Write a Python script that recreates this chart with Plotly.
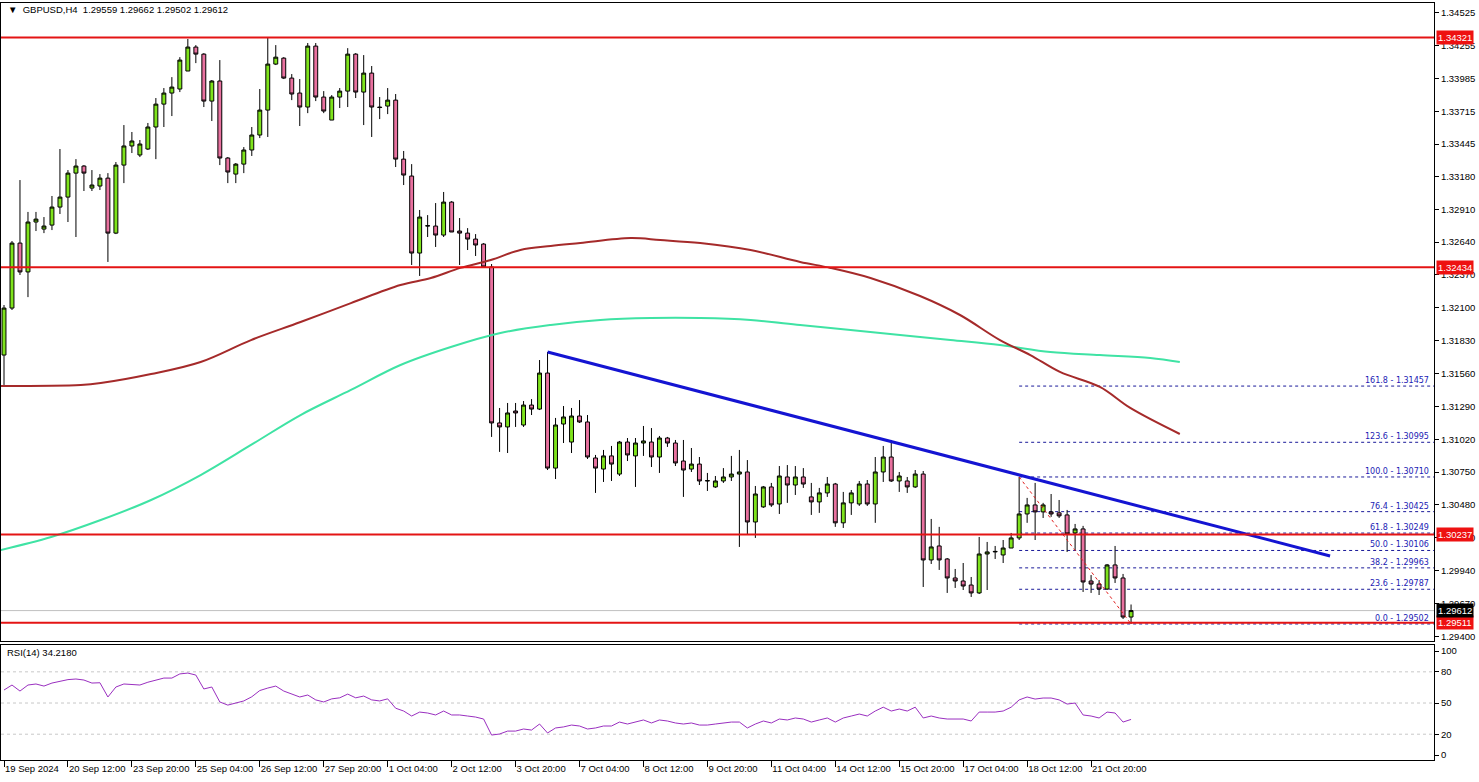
import plotly.graph_objects as go

# ---------------- data ----------------
bars = list(range(142))
opens = [1.31712,1.32098,1.32632,1.32395,1.32805,1.32747,1.32780,1.32928,1.33010,1.33207,
         1.33265,1.33084,1.33101,1.33166,1.32714,1.33273,1.33430,1.33356,1.33405,1.33586,
         1.33774,1.33865,1.33898,1.34046,1.34243,1.34185,1.33799,1.33964,1.33331,1.33199,
         1.33281,1.33397,1.33520,1.33725,1.34103,1.34152,1.33988,1.33865,1.33750,1.34251,
         1.33832,1.33643,1.33832,1.33881,1.34185,1.33873,1.34029,1.33750,1.33758,1.33807,
         1.33322,1.33183,1.32550,1.32772,1.32772,1.32698,1.32969,1.32731,1.32714,1.32665,
         1.32624,1.32436,1.31154,1.31121,1.31252,1.31137,1.31301,1.31268,1.31564,1.30783,
         1.31145,1.30997,1.31211,1.31162,1.30866,1.30775,1.30883,1.30734,1.30997,1.30883,
         1.30989,1.30997,1.30874,1.31030,1.30989,1.30841,1.30775,1.30816,1.30677,1.30628,
         1.30677,1.30710,1.30734,1.30751,1.30340,1.30464,1.30628,1.30488,1.30710,1.30644,
         1.30710,1.30546,1.30505,1.30579,1.30652,1.30333,1.30497,1.30488,1.30652,1.30488,
         1.30751,1.30874,1.30677,1.30677,1.30628,1.30734,1.30028,1.30143,1.30036,1.29880,
         1.29855,1.29822,1.29757,1.30077,1.30094,1.30069,1.30126,1.30209,1.30406,1.30480,
         1.30423,1.30423,1.30415,1.30398,1.30250,1.30283,1.29855,1.29830,1.29789,1.29987,
         1.29880,1.29559]
highs = [1.32123,1.32649,1.33150,1.32888,1.32888,1.32846,1.33019,1.33405,1.33232,1.33322,
         1.33273,1.33232,1.33199,1.33207,1.33298,1.33602,1.33545,1.33479,1.33619,1.33824,
         1.33906,1.33996,1.34160,1.34309,1.34259,1.34193,1.33972,1.34136,1.33339,1.33290,
         1.33421,1.33586,1.33898,1.34321,1.34259,1.34160,1.34021,1.33980,1.34276,1.34276,
         1.33881,1.33848,1.33906,1.34234,1.34193,1.34177,1.34087,1.33832,1.33906,1.33857,
         1.33389,1.33281,1.32904,1.32862,1.32961,1.33052,1.32977,1.32838,1.32755,1.32706,
         1.32632,1.32460,1.31277,1.31318,1.31318,1.31334,1.31350,1.31671,1.31737,1.31195,
         1.31293,1.31277,1.31342,1.31219,1.30891,1.30932,1.30965,1.31006,1.31030,1.31030,
         1.31129,1.31112,1.31047,1.31039,1.31014,1.31014,1.30948,1.30874,1.30743,1.30718,
         1.30783,1.30883,1.30932,1.30849,1.30636,1.30636,1.30661,1.30800,1.30808,1.30800,
         1.30783,1.30661,1.30620,1.30710,1.30661,1.30587,1.30603,1.30677,1.30685,1.30874,
         1.30965,1.31014,1.30751,1.30710,1.30767,1.30759,1.30365,1.30300,1.30044,1.29954,
         1.30003,1.29888,1.30217,1.30176,1.30143,1.30192,1.30250,1.30710,1.30538,1.30661,
         1.30497,1.30570,1.30521,1.30439,1.30324,1.30308,1.29904,1.29863,1.29995,1.30143,
         1.29913,1.29662]
lows = [1.31466,1.32082,1.32370,1.32188,1.32731,1.32714,1.32739,1.32871,1.32805,1.32682,
        1.33060,1.33060,1.33068,1.32477,1.32706,1.33125,1.33372,1.33339,1.33397,1.33322,
        1.33586,1.33676,1.33873,1.34046,1.34111,1.33750,1.33635,1.33273,1.33125,1.33125,
        1.33207,1.33348,1.33495,1.33504,1.34095,1.33980,1.33807,1.33594,1.33700,1.33799,
        1.33700,1.33643,1.33742,1.33750,1.33824,1.33602,1.33504,1.33651,1.33692,1.33257,
        1.33109,1.32452,1.32362,1.32682,1.32600,1.32682,1.32723,1.32452,1.32575,1.32526,
        1.32428,1.31039,1.30916,1.30907,1.31121,1.31121,1.31219,1.31260,1.30767,1.30693,
        1.30989,1.30907,1.31154,1.30858,1.30579,1.30669,1.30677,1.30718,1.30841,1.30628,
        1.30883,1.30792,1.30743,1.30957,1.30800,1.30546,1.30751,1.30644,1.30595,1.30620,
        1.30661,1.30677,1.30135,1.30233,1.30209,1.30456,1.30464,1.30406,1.30497,1.30562,
        1.30620,1.30398,1.30415,1.30546,1.30300,1.30291,1.30398,1.30472,1.30472,1.30333,
        1.30669,1.30669,1.30587,1.30579,1.30620,1.29806,1.29995,1.29946,1.29757,1.29798,
        1.29781,1.29724,1.29748,1.29781,1.30036,1.30003,1.30126,1.30192,1.30333,1.30192,
        1.30373,1.30382,1.30373,1.30094,1.30110,1.29765,1.29757,1.29740,1.29781,1.29839,
        1.29543,1.29502]
closes = [1.32098,1.32632,1.32395,1.32805,1.32829,1.32772,1.32928,1.33010,1.33207,1.33265,
          1.33207,1.33109,1.33166,1.32714,1.33273,1.33430,1.33471,1.33446,1.33586,1.33774,
          1.33865,1.33914,1.34136,1.34243,1.34185,1.33799,1.33964,1.33331,1.33216,1.33281,
          1.33397,1.33520,1.33725,1.34103,1.34160,1.33988,1.33857,1.33750,1.34251,1.33832,
          1.33717,1.33832,1.33881,1.34185,1.33873,1.34029,1.33750,1.33746,1.33807,1.33322,
          1.33191,1.32550,1.32846,1.32775,1.32698,1.32969,1.32723,1.32714,1.32665,1.32616,
          1.32436,1.31154,1.31121,1.31236,1.31236,1.31301,1.31268,1.31564,1.30783,1.31137,
          1.31203,1.31211,1.31162,1.30874,1.30783,1.30883,1.30816,1.30997,1.30891,1.30989,
          1.31006,1.30874,1.31030,1.30989,1.30825,1.30767,1.30816,1.30677,1.30680,1.30677,
          1.30710,1.30734,1.30751,1.30340,1.30570,1.30628,1.30480,1.30718,1.30644,1.30710,
          1.30652,1.30505,1.30579,1.30652,1.30333,1.30497,1.30579,1.30652,1.30488,1.30751,
          1.30874,1.30677,1.30718,1.30628,1.30734,1.30028,1.30135,1.30028,1.29880,1.29855,
          1.29814,1.29757,1.30077,1.30094,1.30098,1.30126,1.30209,1.30406,1.30480,1.30423,
          1.30480,1.30406,1.30390,1.30242,1.30283,1.29847,1.29830,1.29789,1.29987,1.29880,
          1.29559,1.29612]

rsi = [62.5,67.3,61.5,67.3,68.3,66.3,69.2,71.2,72.5,73.1,
       72.1,69.2,69.5,55.8,65.4,68.3,68.0,67.3,70.0,72.1,
       74.0,74.0,78.0,78.8,76.9,63.5,65.4,51.0,48.0,50.0,
       52.0,56.0,62.0,64.4,66.3,61.5,58.7,55.8,57.7,53.0,
       51.0,54.0,55.0,58.6,55.0,56.7,53.0,52.0,54.0,45.0,
       42.3,37.5,41.3,40.4,38.5,42.3,38.5,38.5,37.5,36.5,
       34.6,19.2,20.2,23.0,23.0,25.0,24.0,29.8,21.2,26.0,
       27.0,28.8,27.9,25.0,26.0,27.9,27.9,31.7,29.8,31.7,
       33.7,30.8,33.7,32.7,30.8,29.8,30.8,28.8,28.8,29.8,
       30.8,31.7,31.7,26.0,29.8,32.7,30.8,34.6,33.7,35.6,
       34.6,31.7,33.7,35.6,31.7,35.6,37.5,39.4,37.5,42.3,
       46.0,42.3,44.2,42.3,46.0,35.6,37.5,35.6,34.6,34.6,
       34.6,32.7,41.3,41.3,41.3,42.3,46.0,53.0,55.8,53.8,
       54.8,54.8,53.0,49.0,50.0,38.5,37.5,35.6,41.3,40.4,
       31.7,34.218]

ma100_x = [-0.4,9.6,12.1,18.4,24.6,30.9,37.1,43.4,49.6,53.4,57.1,60.9,64.6,68.4,72.1,
           78.4,82.1,87.1,93.4,99.6,103.4,108.4,114.6,119.6,124.6,128.4,132.1,137.1,140.9,147.1]
ma100_y = [1.31458,1.31466,1.31482,1.31556,1.31655,1.31835,1.31983,1.32139,1.32287,1.32345,
           1.32428,1.32493,1.32575,1.32608,1.32632,1.32673,1.32657,1.32632,1.32575,1.32477,
           1.32428,1.32345,1.32197,1.32041,1.31835,1.31712,1.31573,1.31450,1.31277,1.31063]
ma200_x = [-0.4,5.9,12.1,18.4,24.6,30.9,37.1,43.4,49.6,55.9,62.1,68.4,74.6,80.9,87.1,
           93.4,99.6,105.9,112.1,118.4,124.6,130.9,137.1,143.4,147.1]
ma200_y = [1.30110,1.30217,1.30356,1.30521,1.30726,1.30973,1.31219,1.31425,1.31630,1.31778,
           1.31893,1.31959,1.32000,1.32016,1.32016,1.32000,1.31959,1.31918,1.31876,1.31835,
           1.31794,1.31737,1.31712,1.31688,1.31655]

trend_x = [68, 165.9]
trend_y = [1.31737, 1.30061]

sr_levels = [1.34321, 1.32434, 1.30237, 1.29511]
bid_price = 1.29612

fib_pct = ["161.8", "123.6", "100.0", "76.4", "61.8", "50.0", "38.2", "23.6", "0.0"]
fib_vals = [1.31457, 1.30995, 1.30710, 1.30425, 1.30249, 1.30106, 1.29963, 1.29787, 1.29502]
fib_start = 127
fib_diag_x = [127, 141]
fib_diag_y = [1.30710, 1.29502]

price_ticks = [1.34525,1.34255,1.33985,1.33715,1.33445,1.33180,1.32910,1.32640,1.32370,1.32100,
               1.31830,1.31560,1.31290,1.31020,1.30750,1.30480,1.30210,1.29940,1.29670,1.29400]
rsi_ticks = [100, 80, 50, 20, 0]
time_tick_bars = [0,8,16,24,32,40,48,56,64,72,80,88,96,104,112,120,128,136]
time_tick_text = ["19 Sep 2024","20 Sep 12:00","23 Sep 20:00","25 Sep 04:00","26 Sep 12:00",
                  "27 Sep 20:00","1 Oct 04:00","2 Oct 12:00","3 Oct 20:00","7 Oct 04:00",
                  "8 Oct 12:00","9 Oct 20:00","11 Oct 04:00","14 Oct 12:00","15 Oct 20:00",
                  "17 Oct 04:00","18 Oct 12:00","21 Oct 20:00"]

# ---------------- figure ----------------
W, H = 1479, 782
FONT = "Liberation Sans"
FS = 9.5
XR = [-0.375, 178.9]
YR = [1.29362, 1.34605]
RR = [-4.8, 105.8]

def px_x(p):
    return p / W

def px_y(p):
    return 1 - p / H

fig = go.Figure()

fig.add_trace(go.Scatter(x=ma200_x, y=ma200_y, mode="lines", line_shape="spline",
                         line=dict(color="#3fe3a4", width=2), hoverinfo="skip",
                         xaxis="x", yaxis="y"))
fig.add_trace(go.Scatter(x=ma100_x, y=ma100_y, mode="lines", line_shape="spline",
                         line=dict(color="#a52a2a", width=2), hoverinfo="skip",
                         xaxis="x", yaxis="y"))

fig.add_trace(go.Candlestick(
    x=bars, open=opens, high=highs, low=lows, close=closes,
    increasing=dict(fillcolor="#7ee31c", line=dict(color="black", width=1)),
    decreasing=dict(fillcolor="#e8719f", line=dict(color="black", width=1)),
    whiskerwidth=0, xaxis="x", yaxis="y", hoverinfo="skip"))

fig.add_trace(go.Scatter(x=trend_x, y=trend_y, mode="lines",
                         line=dict(color="#1414d2", width=3), hoverinfo="skip",
                         xaxis="x", yaxis="y"))
fig.add_trace(go.Scatter(x=fib_diag_x, y=fib_diag_y, mode="lines",
                         line=dict(color="#e02020", width=1, dash="dot"), hoverinfo="skip",
                         xaxis="x", yaxis="y"))

fig.add_trace(go.Scatter(x=bars, y=rsi, mode="lines",
                         line=dict(color="#9a2fc0", width=1), hoverinfo="skip",
                         xaxis="x2", yaxis="y2"))

shapes = []
for lv in sr_levels:
    shapes.append(dict(type="line", xref="x domain", yref="y", x0=0, x1=1, y0=lv, y1=lv,
                       line=dict(color="#e41414", width=2), layer="above"))
shapes.append(dict(type="line", xref="x domain", yref="y", x0=0, x1=1, y0=bid_price, y1=bid_price,
                   line=dict(color="#c0c0c0", width=1), layer="below"))
for fv in fib_vals:
    shapes.append(dict(type="line", xref="x", yref="y", x0=fib_start, x1=XR[1], y0=fv, y1=fv,
                       line=dict(color="#1a1a9a", width=1, dash="3px,3px"), layer="below"))
for lv in [80, 50, 20]:
    shapes.append(dict(type="line", xref="x2 domain", yref="y2", x0=0, x1=1, y0=lv, y1=lv,
                       line=dict(color="#c8c8c8", width=1, dash="3px,3px"), layer="below"))

annotations = []
annotations.append(dict(xref="paper", yref="paper", x=px_x(6), y=px_y(10), xanchor="left",
                        yanchor="middle", showarrow=False,
                        text="▼  GBPUSD,H4  1.29559 1.29662 1.29502 1.29612",
                        font=dict(family=FONT, size=FS, color="black")))
annotations.append(dict(xref="paper", yref="paper", x=px_x(5), y=px_y(652), xanchor="left",
                        yanchor="middle", showarrow=False, text="RSI(14) 34.2180",
                        font=dict(family=FONT, size=FS, color="black")))
for pct, fv in zip(fib_pct, fib_vals):
    annotations.append(dict(xref="paper", yref="y", x=px_x(1431), y=fv, xanchor="right",
                            yanchor="bottom", yshift=-1, showarrow=False,
                            text=f"{pct} - {fv:.5f}",
                            font=dict(family="DejaVu Sans", size=8, color="#1a1ab4")))
for lv in sr_levels:
    annotations.append(dict(xref="paper", yref="y", x=px_x(1436), y=lv, xanchor="left",
                            yanchor="middle", showarrow=False, text=f"{lv:.5f}",
                            bgcolor="#ee1111", borderpad=1,
                            font=dict(family=FONT, size=FS, color="white")))
annotations.append(dict(xref="paper", yref="y", x=px_x(1436), y=bid_price, xanchor="left",
                        yanchor="middle", showarrow=False, text=f"{bid_price:.5f}",
                        bgcolor="black", borderpad=1,
                        font=dict(family=FONT, size=FS, color="white")))

fig.update_layout(
    width=W, height=H, margin=dict(l=0, r=0, t=0, b=0),
    paper_bgcolor="white", plot_bgcolor="white", showlegend=False,
    font=dict(family=FONT, size=FS, color="black"),
    shapes=shapes, annotations=annotations,
    xaxis=dict(domain=[px_x(1), px_x(1434)], range=XR, anchor="y",
               showgrid=False, zeroline=False, showticklabels=False, ticks="",
               showline=True, mirror=True, linecolor="black", linewidth=1,
               rangeslider=dict(visible=False)),
    yaxis=dict(domain=[px_y(641), px_y(3)], range=YR, side="right",
               tickvals=price_ticks, ticktext=[f"{t:.5f}" for t in price_ticks],
               ticks="outside", ticklen=4, tickcolor="black",
               showgrid=False, zeroline=False,
               showline=True, mirror=True, linecolor="black", linewidth=1,
               tickfont=dict(family=FONT, size=FS, color="black")),
    xaxis2=dict(domain=[px_x(1), px_x(1434)], range=XR, anchor="y2", matches="x",
                tickvals=time_tick_bars, ticktext=time_tick_text, tickangle=0,
                ticks="outside", ticklen=6, tickcolor="black",
                ticklabelposition="outside right",
                showgrid=False, zeroline=False,
                showline=True, mirror=True, linecolor="black", linewidth=1,
                tickfont=dict(family=FONT, size=FS, color="black")),
    yaxis2=dict(domain=[px_y(760), px_y(645)], range=RR, side="right",
                tickvals=rsi_ticks, ticktext=[str(t) for t in rsi_ticks],
                ticks="outside", ticklen=4, tickcolor="black",
                showgrid=False, zeroline=False,
                showline=True, mirror=True, linecolor="black", linewidth=1,
                tickfont=dict(family=FONT, size=FS, color="black")),
)

fig.write_html("out.html", config={"displayModeBar": False},
               post_script="document.body.style.margin='0';")
